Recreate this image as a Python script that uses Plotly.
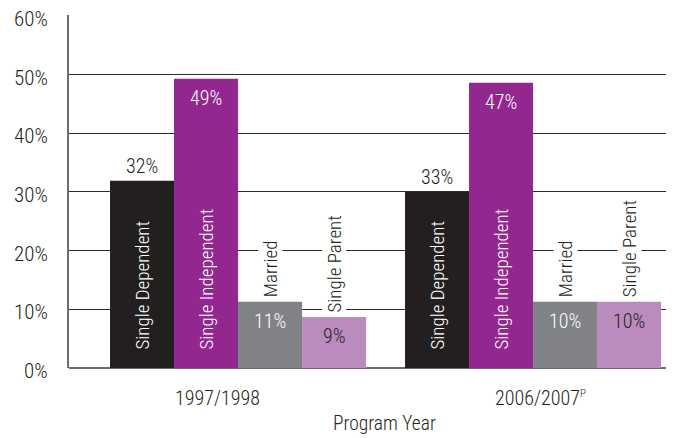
import plotly.graph_objects as go

years = ["1997/1998", "2006/2007"]
year_labels = ["1997/1998", "2006/2007<sup><span style='font-size:11px'>P</span></sup>"]
series = ["Single Dependent", "Single Independent", "Married", "Single Parent"]
heights = {
    "Single Dependent": [31.9, 30.0],
    "Single Independent": [49.3, 48.6],
    "Married": [11.3, 11.3],
    "Single Parent": [8.7, 11.3],
}
value_labels = {
    "Single Dependent": ["32%", "33%"],
    "Single Independent": ["49%", "47%"],
    "Married": ["11%", "10%"],
    "Single Parent": ["9%", "10%"],
}
y_ticks = [0, 10, 20, 30, 40, 50, 60]
y_tick_labels = ["0%", "10%", "20%", "30%", "40%", "50%", "60%"]
x_title = "Program Year"

colors = {
    "Single Dependent": "#231f20",
    "Single Independent": "#92278f",
    "Married": "#808285",
    "Single Parent": "#bb8bbf",
}
FONT = "Roboto Condensed, Liberation Sans Narrow, sans-serif"
TXT = "#231f20"


def fnt(size, color=TXT):
    return dict(size=size, color=color, family=FONT, weight=300)


fig = go.Figure()
for s in series:
    fig.add_trace(go.Bar(x=years, y=heights[s], name=s, marker_color=colors[s],
                         marker_line_width=0, showlegend=False, hoverinfo="skip"))

bargap = 0.132
bw = (1 - bargap) / len(series)
year_xshift = [-21, 7]
ann = []
for gi in range(len(years)):
    for si, s in enumerate(series):
        xc = gi - (1 - bargap) / 2 + bw * (si + 0.5)
        h = heights[s][gi]
        v = value_labels[s][gi]
        if s == "Single Dependent":
            ann.append(dict(x=xc, y=h, text=v, showarrow=False, yanchor="middle",
                            yshift=15, font=fnt(20)))
            ann.append(dict(x=xc, y=0, text=s, showarrow=False, yanchor="bottom",
                            textangle=-90, yshift=16, font=fnt(19, "white")))
        elif s == "Single Independent":
            ann.append(dict(x=xc, y=h, text=v, showarrow=False, yanchor="middle",
                            yshift=-19, font=fnt(20, "white")))
            ann.append(dict(x=xc, y=0, text=s, showarrow=False, yanchor="bottom",
                            textangle=-90, yshift=16, font=fnt(19, "white")))
        else:
            vc = "white" if s == "Married" else TXT
            ann.append(dict(x=xc, y=h, text=v, showarrow=False, yanchor="middle",
                            yshift=-19, font=fnt(20, vc)))
            ann.append(dict(x=xc, y=h, text=s, showarrow=False, yanchor="bottom",
                            textangle=-90, yshift=3, bgcolor="white", borderpad=0,
                            font=fnt(19)))
    ann.append(dict(x=gi, y=0, yref="paper", text=year_labels[gi], showarrow=False,
                    yanchor="middle", xshift=year_xshift[gi], yshift=-30, font=fnt(20)))
ann.append(dict(x=(385 - 69) / 603, xref="paper", y=0, yref="paper", text=x_title,
                showarrow=False, yanchor="middle", yshift=-55, font=fnt(19.5)))
for t, lab in zip(y_ticks, y_tick_labels):
    ann.append(dict(x=0, xref="paper", y=t, yref="y", text=lab, showarrow=False,
                    xanchor="right", yanchor="middle", xshift=-19, yshift=-3,
                    font=fnt(21)))

fig.update_layout(
    width=666, height=430,
    margin=dict(l=61, r=2, t=7, b=70),
    paper_bgcolor="white", plot_bgcolor="white",
    barmode="group", bargap=bargap, bargroupgap=0,
    annotations=ann,
    font=dict(family=FONT, color=TXT),
    xaxis=dict(range=[-0.573, 1.471], showticklabels=False, showgrid=False,
               showline=False, zeroline=False, fixedrange=True),
    yaxis=dict(range=[0, 60.15], tickvals=y_ticks, showticklabels=False,
               showgrid=True, gridcolor="#2b2b2b", gridwidth=1.3,
               zeroline=True, zerolinecolor="#6d6e71", zerolinewidth=2,
               showline=True, linecolor="#6d6e71", linewidth=2,
               ticks="", fixedrange=True),
)
fig.write_html("out.html")
